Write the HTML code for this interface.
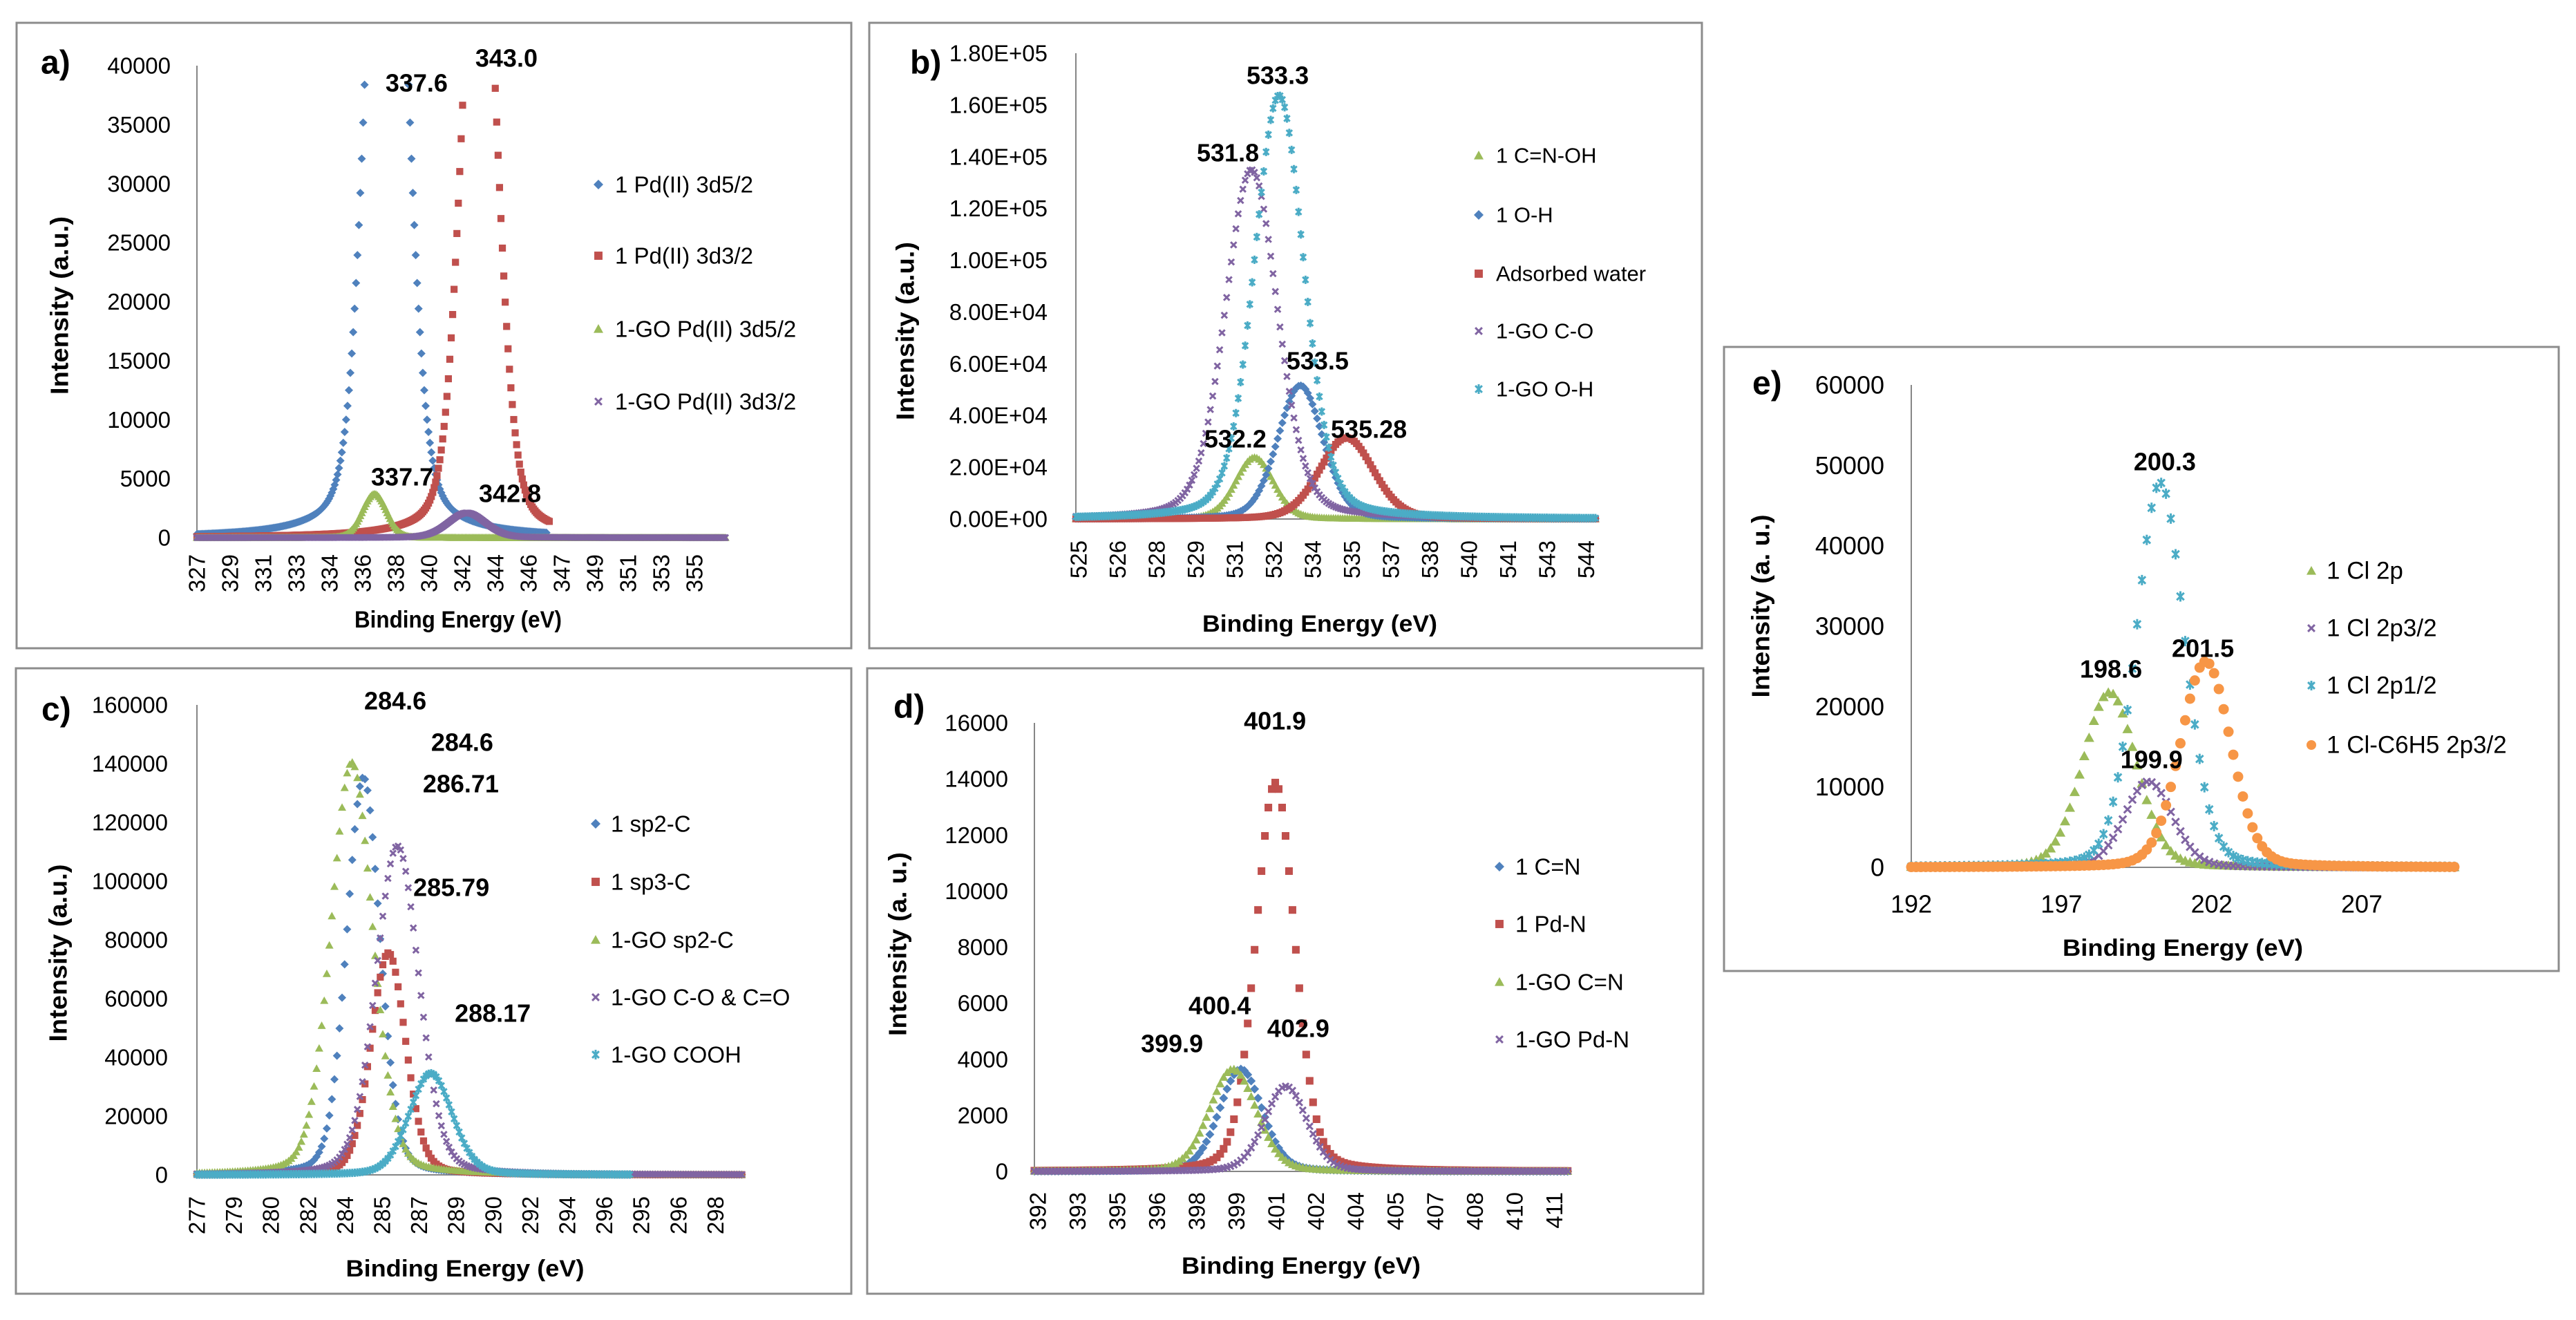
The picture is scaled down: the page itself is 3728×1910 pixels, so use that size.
<!DOCTYPE html>
<html><head><meta charset="utf-8"><style>
html,body{margin:0;padding:0;background:#fff;}
svg{display:block;font-family:"Liberation Sans",Arial,sans-serif;}
</style></head><body>
<svg id="fig" width="3728" height="1910" viewBox="0 0 3728 1910" xmlns="http://www.w3.org/2000/svg">
<defs><filter id="blur" x="-5%" y="-200%" width="110%" height="500%"><feGaussianBlur stdDeviation="3"/></filter></defs>
<rect width="3728" height="1910" fill="#fff"/>
</svg>
<script>
// ---------- Panel a data ----------
const aSeries = ['1 Pd(II) 3d5/2','1 Pd(II) 3d3/2','1-GO Pd(II) 3d5/2','1-GO Pd(II) 3d3/2'];
const aCenters = [337.68, 342.9, 337.0, 342.2];
const aHeights = [79000, 60000, 3700, 2100];
const aWidths = [1.03, 0.96, 0.68, 1.06];
const aMix = [0.3, 0.3, 0.1, 0.2];
const aStart = [327, 327, 327, 327];
const aEnd = [346.7, 346.8, 356.75, 356.75];
const aXTickLabels = ['327','329','331','333','334','336','338','340','342','344','346','347','349','351','353','355'];
const aYTicks = [0,5000,10000,15000,20000,25000,30000,35000,40000];
const aPeakText = ['337.6','343.0','337.7','342.8'];
const aPeakX = [339.37, 344.43, 338.56, 344.63];
const aPeakY = [38540, 40640, 5150, 3750];
// ---------- Panel b data ----------
const bSeries = ['1 C=N-OH','1 O-H','Adsorbed water','1-GO C-O','1-GO O-H'];
const bCenters = [531.93, 533.71, 535.5, 531.81, 532.88];
const bHeights = [23800, 51600, 31400, 135000, 163700];
const bWidths = [0.74, 0.88, 1.05, 1.02, 0.97];
const bMix = [0.2, 0.2, 0.2, 0.25, 0.25];
const bStart = [525, 525, 525, 525, 525];
const bEnd = [545.2, 545.2, 545.2, 545.2, 545.2];
const bXTickLabels = ['525','526','528','529','531','532','534','535','537','538','540','541','543','544'];
const bYTicks = [0,20000,40000,60000,80000,100000,120000,140000,160000,180000];
const bPeakText = ['533.3','531.8','533.5','532.2','535.28'];
const bPeakX = [532.83, 530.90, 534.38, 531.19, 536.37];
const bPeakY = [171450, 141540, 61160, 30980, 34720];
// ---------- Panel c data ----------
const cSeries = ['1 sp2-C','1 sp3-C','1-GO sp2-C','1-GO C-O & C=O','1-GO COOH'];
const cCenters = [284.19, 285.27, 283.69, 285.66, 287.1];
const cHeights = [135400, 75600, 140500, 112000, 34600];
const cWidths = [0.72, 0.75, 0.9, 0.93, 0.93];
const cMix = [0.2, 0.2, 0.2, 0.2, 0.2];
const cStart = [277, 277, 277, 277, 277];
const cEnd = [300.5, 300.5, 300.5, 300.5, 295.7];
const cXTickLabels = ['277','279','280','282','284','285','287','289','290','292','294','296','295','296','298'];
const cYTicks = [0,20000,40000,60000,80000,100000,120000,140000,160000];
const cPeakText = ['284.6','284.6','286.71','285.79','288.17'];
const cPeakX = [285.57, 288.46, 288.40, 287.99, 289.78];
const cPeakY = [161400, 147300, 133200, 97900, 55060];
// ---------- Panel d data ----------
const dSeries = ['1 C=N','1 Pd-N','1-GO C=N','1-GO Pd-N'];
const dCenters = [399.8, 401.1, 399.5, 401.5];
const dHeights = [3650, 13870, 3650, 3040];
const dWidths = [0.81, 0.74, 0.89, 0.8];
const dMix = [0.2, 0.2, 0.2, 0.2];
const dStart = [392, 392, 392, 392];
const dEnd = [412.2, 412.2, 412.2, 412.2];
const dXTickLabels = ['392','393','395','396','398','399','401','402','404','405','407','408','410','411'];
const dYTicks = [0,2000,4000,6000,8000,10000,12000,14000,16000];
const dPeakText = ['401.9','400.4','399.9','402.9'];
const dPeakX = [401.09, 399.0, 397.2, 401.97];
const dPeakY = [16075, 5917, 4561, 5104];
// ---------- Panel e data ----------
const eSeries = ['1 Cl 2p','1 Cl 2p3/2','1 Cl 2p1/2','1 Cl-C6H5 2p3/2'];
const eCenters = [198.6, 199.9, 200.29, 201.8];
const eHeights = [21770, 10660, 47850, 25600];
const eWidths = [0.89, 0.8, 0.81, 0.84];
const eMix = [0.15, 0.15, 0.15, 0.15];
const eStart = [192, 192, 192, 192];
const eEnd = [210.1, 210.1, 210.1, 210.1];
const eXTicks = [192, 197, 202, 207];
const eYTicks = [0,10000,20000,30000,40000,50000,60000];
const ePeakText = ['200.3','198.6','201.5','199.9'];
const ePeakX = [200.44, 198.65, 201.71, 200.0];
const ePeakY = [50460, 24670, 27250, 13410];

const NS = 'http://www.w3.org/2000/svg';
const svg = document.getElementById('fig');
const COL = {blue:'#4F81BD', red:'#C0504D', green:'#9BBB59', purple:'#8064A2', cyan:'#4BACC6', orange:'#F79646'};

function mk(tag, attrs, parent) {
  const el = document.createElementNS(NS, tag);
  for (const k in attrs) el.setAttribute(k, attrs[k]);
  (parent || svg).appendChild(el);
  return el;
}
function markerPath(shape, x, y, r) {
  if (shape === 'diamond') return `M${x} ${y-r}L${x+r} ${y}L${x} ${y+r}L${x-r} ${y}Z`;
  if (shape === 'square') return `M${x-r*0.85} ${y-r*0.85}h${r*1.7}v${r*1.7}h${-r*1.7}Z`;
  if (shape === 'triangle') return `M${x} ${y-r}L${x+r} ${y+r*0.8}L${x-r} ${y+r*0.8}Z`;
  if (shape === 'x') return `M${x-r*0.7} ${y-r*0.7}L${x+r*0.7} ${y+r*0.7}M${x+r*0.7} ${y-r*0.7}L${x-r*0.7} ${y+r*0.7}`;
  if (shape === 'star') return `M${x-r*0.7} ${y-r*0.7}L${x+r*0.7} ${y+r*0.7}M${x+r*0.7} ${y-r*0.7}L${x-r*0.7} ${y+r*0.7}M${x} ${y-r}L${x} ${y+r}`;
  return '';
}
function drawMarker(g, shape, color, x, y, r) {
  if (shape === 'circle') {
    return mk('circle', {cx:x, cy:y, r:r, fill:color}, g);
  }
  const stroked = (shape === 'x' || shape === 'star');
  return mk('path', {d: markerPath(shape, x, y, r), fill: stroked ? 'none' : color, stroke: stroked ? color : 'none', 'stroke-width': stroked ? 3 : 0}, g);
}
function voigt(x, c, h, s, m) {
  const d = x - c;
  return h * ((1 - m) * Math.exp(-0.5 * d * d / (s * s)) + m / (1 + Math.pow(d / (1.1774 * s), 2)));
}

function panel(P) {
  const g = mk('g', {});
  
  
  const X = v => P.x0 + (v - P.xMin) * P.pxPerEv;
  const Y = v => P.y0 - (v / P.yMax) * (P.y0 - P.yTop);
  const fr = mk('rect', {x:P.fx, y:P.fy, width:P.fw, height:P.fh, fill:'#fff', stroke:'#8c8c8c', 'stroke-width':3}, g);
  
  
  const lt = mk('text', {x:P.letter[0], y:P.letter[1], 'font-size':48, 'font-weight':'bold', 'dominant-baseline':'central'}, g);
  lt.textContent = P.letterText;
  
  
  const ya = mk('line', {x1:P.x0, y1:P.yTop, x2:P.x0, y2:P.y0, stroke:'#868686', 'stroke-width':2}, g);
  
  
  const xa = mk('line', {x1:P.x0, y1:P.y0, x2:X(P.dataEnd), y2:P.y0, stroke:'#868686', 'stroke-width':2}, g);
  
  
  P.yTicks.forEach(v => {
    const t = mk('text', {x:P.yLabelRight, y:Y(v), 'font-size':P.tickFont, 'text-anchor':'end', 'dominant-baseline':'central'}, g);
    t.textContent = P.yFmt(v);
    
    
  });
  if (P.xTickLabels) {
    P.xTickLabels.forEach((lab, i) => {
      const tx = P.xTickStart + i * P.xTickStep;
      const ty = P.y0 + P.xTickOffset;
      const t = mk('text', {x:tx, y:ty, 'font-size':P.tickFont, 'text-anchor':'end', 'dominant-baseline':'central', transform:`rotate(-90 ${tx} ${ty})`}, g);
      t.textContent = lab;
      
      
    });
  } else {
    P.xTicks.forEach(v => {
      const t = mk('text', {x:X(v), y:P.y0 + P.xTickOffset, 'font-size':P.tickFont, 'text-anchor':'middle', 'dominant-baseline':'central'}, g);
      t.textContent = String(v);
      
      
    });
  }
  const xt = mk('text', {x:P.xTitle[0], y:P.xTitle[1], 'font-size':34, 'font-weight':'bold', 'text-anchor':'middle', 'dominant-baseline':'central', textLength:P.xTitle[2], lengthAdjust:'spacingAndGlyphs'}, g);
  xt.textContent = 'Binding Energy (eV)';
  
  
  const yt = mk('text', {x:P.yTitle[0], y:P.yTitle[1], 'font-size':36, 'font-weight':'bold', 'text-anchor':'middle', 'dominant-baseline':'central', textLength:P.yTitle[2], lengthAdjust:'spacingAndGlyphs', transform:`rotate(-90 ${P.yTitle[0]} ${P.yTitle[1]})`}, g);
  yt.textContent = P.yTitleText;
  
  
  if (P.shadow) {
    const sh = mk('line', {x1:P.x0, y1:P.y0 + 7, x2:X(P.dataEnd) + 6, y2:P.y0 + 7, stroke:'#000', 'stroke-width':12, filter:'url(#blur)'}, g);
    
    
  }
  P.series.forEach((nm, i) => {
    const sg = mk('g', {}, g);
    
    
    const n = Math.round((P.end[i] - P.start[i]) / P.step);
    for (let k = 0; k <= n; k++) {
      const ev = P.start[i] + k * P.step;
      const v = voigt(ev, P.centers[i], P.heights[i], P.widths[i], P.mix[i]);
      if (v > P.yMax * 0.985) continue;
      const pt = drawMarker(sg, P.shapes[i], P.colors[i], X(ev), Y(v), P.mr);
      
      
    }
  });
  P.peakText.forEach((txt, i) => {
    const t = mk('text', {x:X(P.peakX[i]), y:Y(P.peakY[i]), 'font-size':P.peakFont, 'font-weight':'bold', 'text-anchor':'middle', 'dominant-baseline':'central'}, g);
    t.textContent = txt;
    
    
  });
  P.series.forEach((nm, i) => {
    const lg = mk('g', {}, g);
    
    
    drawMarker(lg, P.shapes[i], P.colors[i], P.legendX, P.legendY[i], 7);
    const t = mk('text', {x:P.legendTextX, y:P.legendY[i], 'font-size':P.legendFont, 'dominant-baseline':'central'}, lg);
    t.textContent = nm;
  });
}

const intFmt = v => String(v);
const expFmt = v => { if (v === 0) return '0.00E+00'; const e = Math.floor(Math.log10(v)); return (v / Math.pow(10, e)).toFixed(2) + 'E+' + String(e).padStart(2, '0'); };

panel({name:'panel-a', letterText:'a)', letter:[59,91], fx:24, fy:33, fw:1208, fh:905,
  x0:285, xMin:327, pxPerEv:25.7, y0:778, yTop:95, yMax:40000, dataEnd:356.75,
  yTicks:aYTicks, yFmt:intFmt, yLabelRight:247, tickFont:33,
  xTickLabels:aXTickLabels, xTickStart:285, xTickStep:48, xTickOffset:24,
  xTitle:[663,897,300], yTitle:[86,442,258], yTitleText:'Intensity (a.u.)', shadow:true,
  series:aSeries, centers:aCenters, heights:aHeights, widths:aWidths, mix:aMix, start:aStart, end:aEnd, step:0.08,
  shapes:['diamond','square','triangle','x'], colors:[COL.blue,COL.red,COL.green,COL.purple], mr:6,
  peakText:aPeakText, peakX:aPeakX, peakY:aPeakY, peakFont:36,
  legendX:866, legendTextX:890, legendY:[267,370,476,581], legendFont:33});

panel({name:'panel-b', letterText:'b)', letter:[1317,91], fx:1258, fy:33, fw:1205, fh:905,
  x0:1557, xMin:525, pxPerEv:37.3, y0:751, yTop:77, yMax:180000, dataEnd:545.2,
  yTicks:bYTicks, yFmt:expFmt, yLabelRight:1516, tickFont:33,
  xTickLabels:bXTickLabels, xTickStart:1561, xTickStep:56.5, xTickOffset:31,
  xTitle:[1910,903,340], yTitle:[1310,479,258], yTitleText:'Intensity (a.u.)', shadow:true,
  series:bSeries, centers:bCenters, heights:bHeights, widths:bWidths, mix:bMix, start:bStart, end:bEnd, step:0.09,
  shapes:['triangle','diamond','square','x','star'], colors:[COL.green,COL.blue,COL.red,COL.purple,COL.cyan], mr:6,
  peakText:bPeakText, peakX:bPeakX, peakY:bPeakY, peakFont:36,
  legendX:2140, legendTextX:2165, legendY:[225,311,396,479,563], legendFont:31});

panel({name:'panel-c', letterText:'c)', letter:[60,1027], fx:23, fy:967, fw:1209, fh:905,
  x0:285, xMin:277, pxPerEv:33.5, y0:1700, yTop:1020, yMax:160000, dataEnd:300.5,
  yTicks:cYTicks, yFmt:intFmt, yLabelRight:243, tickFont:33,
  xTickLabels:cXTickLabels, xTickStart:285, xTickStep:53.6, xTickOffset:31,
  xTitle:[673,1836,345], yTitle:[84,1379,257], yTitleText:'Intensity (a.u.)', shadow:true,
  series:cSeries, centers:cCenters, heights:cHeights, widths:cWidths, mix:cMix, start:cStart, end:cEnd, step:0.11,
  shapes:['diamond','square','triangle','x','star'], colors:[COL.blue,COL.red,COL.green,COL.purple,COL.cyan], mr:6,
  peakText:cPeakText, peakX:cPeakX, peakY:cPeakY, peakFont:36,
  legendX:862, legendTextX:884, legendY:[1192,1276,1360,1443,1526], legendFont:33});

panel({name:'panel-d', letterText:'d)', letter:[1293,1023], fx:1255, fy:967, fw:1210, fh:905,
  x0:1497, xMin:392, pxPerEv:38.3, y0:1695, yTop:1046, yMax:16000, dataEnd:412.2,
  yTicks:dYTicks, yFmt:intFmt, yLabelRight:1459, tickFont:33,
  xTickLabels:dXTickLabels, xTickStart:1502, xTickStep:57.5, xTickOffset:30,
  xTitle:[1883,1832,346], yTitle:[1299,1366,266], yTitleText:'Intensity (a. u.)', shadow:true,
  series:dSeries, centers:dCenters, heights:dHeights, widths:dWidths, mix:dMix, start:dStart, end:dEnd, step:0.13,
  shapes:['diamond','square','triangle','x'], colors:[COL.blue,COL.red,COL.green,COL.purple], mr:6.5,
  peakText:dPeakText, peakX:dPeakX, peakY:dPeakY, peakFont:36,
  legendX:2170, legendTextX:2193, legendY:[1254,1337,1421,1504], legendFont:33});

panel({name:'panel-e', letterText:'e)', letter:[2536,555], fx:2495, fy:502, fw:1208, fh:903,
  x0:2766, xMin:192, pxPerEv:43.47, y0:1255, yTop:557, yMax:60000, dataEnd:210.1,
  yTicks:eYTicks, yFmt:intFmt, yLabelRight:2727, tickFont:36,
  xTicks:eXTicks, xTickOffset:53,
  xTitle:[3159,1372,348], yTitle:[2548,877,265], yTitleText:'Intensity (a. u.)', shadow:false,
  series:eSeries, centers:eCenters, heights:eHeights, widths:eWidths, mix:eMix, start:eStart, end:eEnd, step:0.16,
  shapes:['triangle','x','star','circle'], colors:[COL.green,COL.purple,COL.cyan,COL.orange], mr:7.5,
  peakText:ePeakText, peakX:ePeakX, peakY:ePeakY, peakFont:36,
  legendX:3345, legendTextX:3367, legendY:[826,909,992,1078], legendFont:35});
</script>
</body></html>
